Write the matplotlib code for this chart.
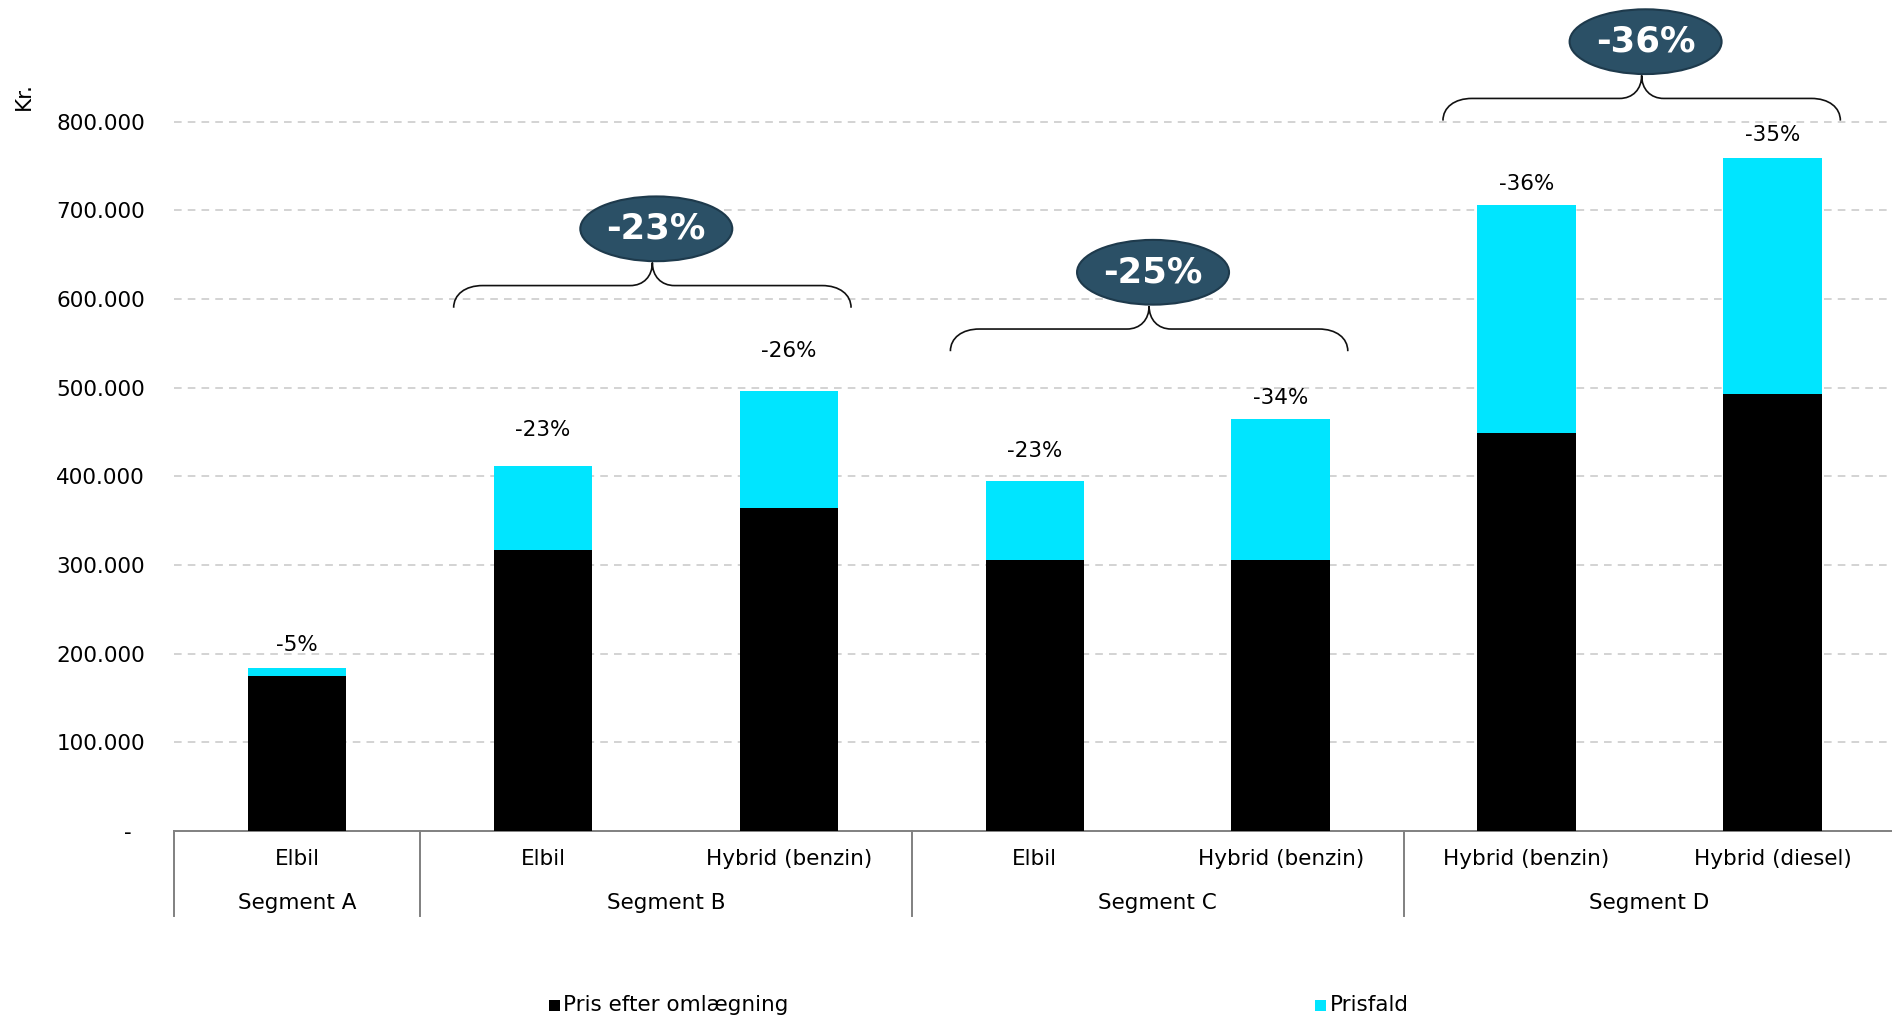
import matplotlib
matplotlib.use("Agg")
import matplotlib.pyplot as plt
from matplotlib.patches import Ellipse, PathPatch, Rectangle
from matplotlib.path import Path
import matplotlib.transforms as mtransforms

# ---------------- data ----------------
vehicle_labels = ["Elbil", "Elbil", "Hybrid (benzin)", "Elbil", "Hybrid (benzin)", "Hybrid (benzin)", "Hybrid (diesel)"]
segment_labels = ["Segment A", "Segment B", "Segment C", "Segment D"]
segment_sizes = [1, 2, 2, 2]
price_after = [175000, 317000, 364000, 306000, 306000, 449000, 493000]
price_drop = [9000, 94000, 132000, 89000, 158000, 257000, 266000]
pct_labels = ["-5%", "-23%", "-26%", "-23%", "-34%", "-36%", "-35%"]
pct_label_y = [210000, 452000, 541000, 429000, 488000, 729000, 785000]
segment_pct = ["-23%", "-25%", "-36%"]
segment_pct_bars = [(1, 2), (3, 4), (5, 6)]
brace_base_y = [590000, 541000, 801000]
yticks = [0, 100000, 200000, 300000, 400000, 500000, 600000, 700000, 800000]
ytick_labels = ["-  ", "100.000", "200.000", "300.000", "400.000", "500.000", "600.000", "700.000", "800.000"]

BLACK = "#000000"
CYAN = "#00E5FF"
NAVY = "#2B5066"
NAVY_EDGE = "#1E3A4C"
FS = 15.5

plt.rcParams["font.family"] = ["DejaVu Sans"]

fig = plt.figure(figsize=(18.92, 10.19), dpi=100)
ax = fig.add_axes([0.092, 0.1845, 0.908, 0.8155])

x = list(range(len(vehicle_labels)))
ax.bar(x, price_after, width=0.4, color=BLACK, zorder=3)
ax.bar(x, price_drop, width=0.4, bottom=price_after, color=CYAN, zorder=3)

ax.set_xlim(-0.5, 6.486)
ax.set_ylim(0, 937000)

ax.set_yticks(yticks)
ax.set_yticklabels(ytick_labels, fontsize=FS)
ax.tick_params(axis="y", length=0, pad=21)
ax.set_xticks([])
for y in yticks[1:]:
    ax.axhline(y, color="#C8C8C8", lw=1.1, ls=(0, (5, 4)), zorder=1)

for s in ["top", "right", "left"]:
    ax.spines[s].set_visible(False)
ax.spines["bottom"].set_color("#808080")
ax.spines["bottom"].set_linewidth(1.4)

# percent labels above bars
for xi, lab, ly in zip(x, pct_labels, pct_label_y):
    ax.text(xi, ly, lab, ha="center", va="center", fontsize=FS, zorder=5)

# category labels below
trans = mtransforms.blended_transform_factory(ax.transData, fig.transFigure)
for xi, lab in zip(x, vehicle_labels):
    ax.text(xi, 0.157, lab, ha="center", va="center", fontsize=FS, transform=trans, clip_on=False)
start = -0.5
bounds = [start]
for name, n in zip(segment_labels, segment_sizes):
    c = start + n / 2.0
    ax.text(c, 0.1138, name, ha="center", va="center", fontsize=FS, transform=trans, clip_on=False)
    start += n
    bounds.append(start)
for b in bounds[:-1]:
    ax.plot([b, b], [0.1845, 0.101], color="#808080", lw=1.4, transform=trans, clip_on=False)

# braces and bubbles
def brace(ax, x0, x1, xc, base, line, tip, rx=0.118, rc=0.09):
    verts = [
        (x0, base),
        (x0, base + (line - base) * 0.6), (x0 + rx * 0.4, line), (x0 + rx, line),
        (xc - rc, line),
        (xc - rc * 0.4, line), (xc, line + (tip - line) * 0.4), (xc, tip),
        (xc, line + (tip - line) * 0.4), (xc + rc * 0.4, line), (xc + rc, line),
        (x1 - rx, line),
        (x1 - rx * 0.4, line), (x1, base + (line - base) * 0.6), (x1, base),
    ]
    codes = [Path.MOVETO,
             Path.CURVE4, Path.CURVE4, Path.CURVE4,
             Path.LINETO,
             Path.CURVE4, Path.CURVE4, Path.CURVE4,
             Path.CURVE4, Path.CURVE4, Path.CURVE4,
             Path.LINETO,
             Path.CURVE4, Path.CURVE4, Path.CURVE4]
    ax.add_patch(PathPatch(Path(verts, codes), fill=False, lw=1.2, color="#111111", zorder=6, clip_on=False))

brace_shift = [-0.055, -0.035, -0.032]
for (a, b), lab, base, sh in zip(segment_pct_bars, segment_pct, brace_base_y, brace_shift):
    mid = (a + b) / 2.0 + sh
    x0 = mid - 0.808
    x1 = mid + 0.808
    line = base + 25000
    tip = line + 26000
    brace(ax, x0, x1, mid, base, line, tip)
    ecy = tip + 38000
    ecx = mid + 0.016
    ax.add_patch(Ellipse((ecx, ecy), width=0.618, height=73000, facecolor=NAVY,
                         edgecolor=NAVY_EDGE, lw=1.5, zorder=7, clip_on=False))
    ax.text(ecx, ecy, lab, ha="center", va="center", fontsize=25.5, fontweight="bold",
            color="white", zorder=8)

# y axis title
fig.text(0.0127, 0.906, "Kr.", rotation=90, ha="center", va="center", fontsize=FS)

# legend
sq_w = 0.0058
sq_h = sq_w * 1892 / 1019
fig.patches.append(Rectangle((0.2900, 0.0137 - sq_h / 2), sq_w, sq_h,
                             transform=fig.transFigure, facecolor=BLACK, edgecolor="none"))
fig.text(0.2978, 0.0137, "Pris efter omlægning", ha="left", va="center", fontsize=FS)
fig.patches.append(Rectangle((0.6950, 0.0137 - sq_h / 2), sq_w, sq_h,
                             transform=fig.transFigure, facecolor=CYAN, edgecolor="none"))
fig.text(0.7028, 0.0137, "Prisfald", ha="left", va="center", fontsize=FS)

fig.savefig("out.png", dpi=100)
